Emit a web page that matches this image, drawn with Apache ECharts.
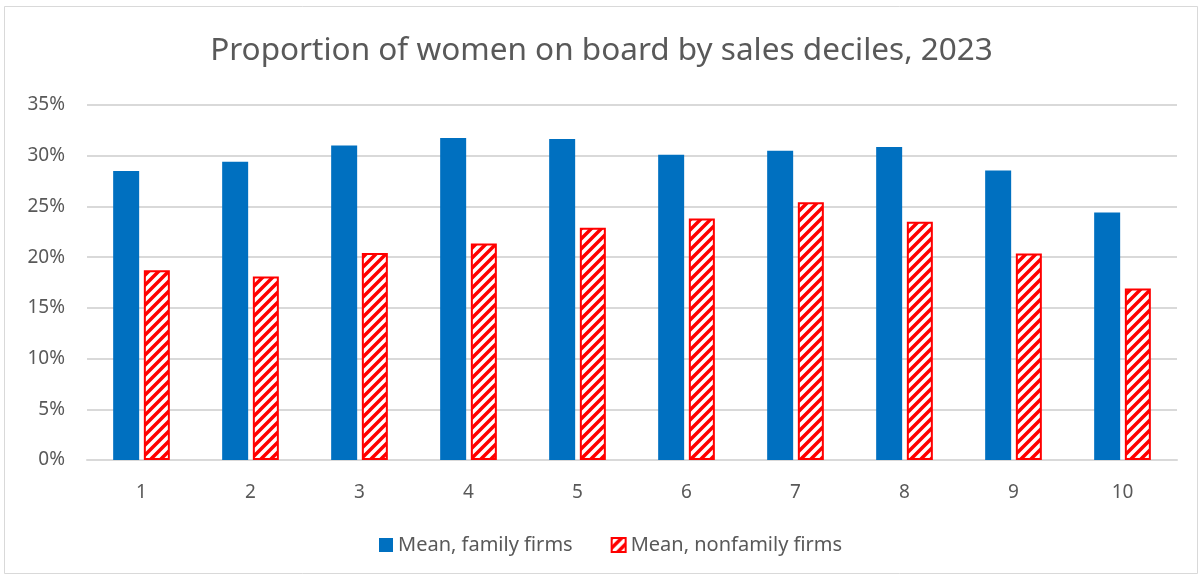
<!DOCTYPE html>
<html>
<head>
<meta charset="utf-8">
<script src="https://cdn.jsdelivr.net/npm/echarts@6/dist/echarts.min.js"></script>
<style>
  html, body { margin: 0; padding: 0; background: #fff; }
  #chart { width: 1203px; height: 577px; }
</style>
</head>
<body>
<div id="chart"></div>
<script>
// 数据
const deciles = ['1', '2', '3', '4', '5', '6', '7', '8', '9', '10'];
const familyMean = [28.5, 29.4, 31.0, 31.75, 31.65, 30.1, 30.5, 30.85, 28.55, 24.4];
const nonfamilyMean = [18.7, 18.1, 20.4, 21.35, 22.9, 23.8, 25.4, 23.5, 20.35, 16.9];
const yTicks = [0, 5, 10, 15, 20, 25, 30, 35];

const textColor = '#595959';
const fontFamily = '"Noto Sans", "Open Sans", sans-serif';

// 斜线填充
function hatchPattern() {
  const size = 10;
  const c = document.createElement('canvas');
  c.width = size;
  c.height = size;
  const ctx = c.getContext('2d');
  ctx.fillStyle = '#fff';
  ctx.fillRect(0, 0, size, size);
  ctx.strokeStyle = '#ff0000';
  ctx.lineWidth = 3.5;
  ctx.beginPath();
  ctx.moveTo(-size / 2, size / 2);
  ctx.lineTo(size / 2, -size / 2);
  ctx.moveTo(0, size);
  ctx.lineTo(size, 0);
  ctx.moveTo(size / 2, size * 1.5);
  ctx.lineTo(size * 1.5, size / 2);
  ctx.stroke();
  return c;
}

const chart = echarts.init(document.getElementById('chart'));
const hatch = { image: hatchPattern(), repeat: 'repeat' };

chart.setOption({
  animation: false,
  backgroundColor: '#fff',
  textStyle: { fontFamily },
  graphic: [{
    type: 'rect',
    shape: { x: 4.5, y: 6.5, width: 1193, height: 567 },
    style: { fill: 'none', stroke: '#d9d9d9', lineWidth: 1 },
    silent: true
  }],
  title: {
    text: 'Proportion of women on board by sales deciles, 2023',
    left: 'center',
    top: 30,
    textStyle: { color: textColor, fontSize: 31.5, fontWeight: 'normal', fontFamily }
  },
  legend: {
    bottom: 17,
    left: 374,
    itemWidth: 14,
    itemHeight: 14,
    itemGap: 38,
    icon: 'rect',
    textStyle: { color: textColor, fontSize: 20, fontFamily, padding: [0, 0, 0, 0] },
    data: ['Mean, family firms', 'Mean, nonfamily firms']
  },
  grid: { left: 87, right: 26, top: 105, bottom: 117, containLabel: false },
  xAxis: {
    type: 'category',
    data: deciles,
    axisLine: { lineStyle: { color: '#d9d9d9', width: 2 } },
    axisTick: { show: false },
    axisLabel: { color: textColor, fontSize: 19, margin: 23, fontFamily }
  },
  yAxis: {
    type: 'value',
    min: yTicks[0],
    max: yTicks[yTicks.length - 1],
    interval: 5,
    axisLine: { show: false },
    axisTick: { show: false },
    axisLabel: { color: textColor, fontSize: 19, margin: 22, formatter: '{value}%', fontFamily },
    splitLine: { lineStyle: { color: '#d9d9d9', width: 2 } }
  },
  series: [
    {
      name: 'Mean, family firms',
      type: 'bar',
      data: familyMean,
      barWidth: 26,
      barGap: '18%',
      itemStyle: { color: '#0070c0' }
    },
    {
      name: 'Mean, nonfamily firms',
      type: 'bar',
      data: nonfamilyMean,
      barWidth: 26,
      itemStyle: { color: hatch, borderColor: '#ff0000', borderWidth: 2 }
    }
  ]
});
</script>
</body>
</html>
